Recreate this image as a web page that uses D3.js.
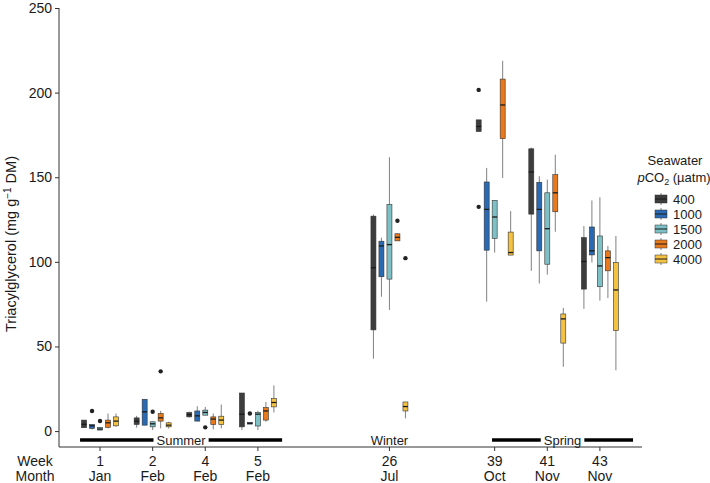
<!DOCTYPE html>
<html><head><meta charset="utf-8">
<script src="https://cdn.jsdelivr.net/npm/d3@7"></script>
<style>body{margin:0;background:#fff} svg text{font-family:"Liberation Sans",Arial,Helvetica,sans-serif;fill:#1a1a1a}</style>
</head><body><svg id="c" width="710" height="483"></svg>
<script>
// ---- data ----
const weeks  = ["1","2","4","5","26","39","41","43"];
const months = ["Jan","Feb","Feb","Feb","Jul","Oct","Nov","Nov"];
// slot index of each week on the x axis (seasons separated by gaps)
const weekSlot = [0, 1, 2, 3, 5.5, 7.5, 8.5, 9.5];
const levels = ["400","1000","1500","2000","4000"];
const colors = ["#3d3d3d","#2a6ab3","#7dc0c6","#e8791c","#f4c243"];
const yTicks = [0, 50, 100, 150, 200, 250];

// box stats per week: [min, q1, median, q3, max]
const box400 = [
  [1.8, 2.0, 4.0, 6.5, 6.5], [2.0, 3.9, 5.9, 7.8, 9.0], [8.0, 8.4, 9.7, 11.0, 11.5], [0.6, 2.5, 10, 22.5, 22.5],
  [42.8, 59.8, 96.5, 127, 128], [177, 177, 180, 183.9, 183.9], [94.7, 128.2, 153.1, 166.8, 167.5], [72.2, 83.9, 100.2, 114.3, 121.2]];
const box1000 = [
  [1.0, 1.6, 3.1, 3.9, 3.9], [3.5, 3.5, 11.4, 18.8, 18.8], [5.9, 5.9, 9.0, 11.9, 14.7], [4.3, 4.4, 4.6, 4.8, 4.8],
  [79.4, 91.2, 109.4, 112.2, 114.3], [76.5, 106.9, 131, 147.2, 155.5], [87.2, 106.5, 131, 147, 150.6], [99.6, 104.1, 106.5, 120.6, 136.3]];
const box1500 = [
  [0.6, 0.6, 1.2, 2.2, 2.2], [0.6, 2.5, 4.3, 5.5, 5.5], [9.4, 9.4, 11.0, 12.4, 14.3], [0.6, 3.0, 10.0, 11.0, 12.0],
  [71.6, 89.8, 110.2, 133.9, 161.8], [105.5, 113.9, 126.5, 136.3, 136.3], [92.4, 98.6, 119.6, 140.8, 148.6], [77.1, 85.3, 97.6, 115.3, 138.2]];
const box2000 = [
  [1.6, 2.2, 4.9, 6.5, 10.4], [1.6, 5.9, 7.8, 10.4, 12.0], [1.0, 3.9, 7.1, 8.4, 10.4], [5.5, 6.5, 11.9, 13.9, 17.2],
  [112.4, 112.4, 114.5, 116.6, 116.6], [149.6, 172.8, 192.7, 208, 218.8], [117.8, 129.6, 140.8, 151.5, 163.3], [78.6, 94.7, 102.5, 106.5, 109.4]];
const box4000 = [
  [2.5, 3.1, 5.9, 8.4, 10.4], [1.5, 2.5, 3.5, 4.9, 5.5], [1.6, 3.9, 6.5, 8.8, 15.7], [11.0, 14.3, 16.9, 19.2, 27.0],
  [7.5, 11.9, 14.5, 17.2, 17.2], [104, 104, 105.5, 117.6, 130], [38, 52, 66.3, 69.2, 72.8], [35.9, 59.4, 83.4, 99.6, 115.3]];
const outlierWeek  = ["1", "1", "2", "2", "4", "5", "26", "26", "39", "39"];
const outlierLevel = ["1000","1500","1500","2000","1500","1000","2000","4000","400","400"];
const outlierValue = [11.9, 6.0, 11.4, 35.3, 2.2, 10.4, 124.3, 102.2, 201.6, 132.5];
// season annotations (in x slot units)
const seasonNames = ["Summer","Winter","Spring"];
const seasonFrom  = [-0.38, 5.5, 7.45];
const seasonTo    = [3.46, 5.5, 10.13];

// ---- layout ----
const svg = d3.select("#c");
const boxes = [box400, box1000, box1500, box2000, box4000];
const x = d3.scaleLinear().domain([-0.78, 10.3]).range([59, 642]);
const y = d3.scaleLinear().domain([-9.4, 250]).range([447, 8]);
const dodge = d3.scaleBand().domain(levels).range([-20, 20]).paddingInner(0.375).paddingOuter(0.1875);
const color = d3.scaleOrdinal().domain(levels).range(colors);
const xw = w => x(weekSlot[weeks.indexOf(w)]);

// axes
const gy = svg.append("g").attr("transform", "translate(59,0)")
  .call(d3.axisLeft(y).tickValues(yTicks).tickSize(4).tickPadding(3).tickFormat(d3.format("d")));
gy.select(".domain").remove();
gy.append("line").attr("x1", 0).attr("x2", 0).attr("y1", y(250)).attr("y2", 447).attr("stroke", "#333");
gy.selectAll(".tick line").attr("stroke", "#333");
gy.selectAll(".tick text").attr("font-size", 14).attr("fill", "#1a1a1a").attr("font-family", "Liberation Sans, Arial, sans-serif");

svg.append("line").attr("x1", 59).attr("x2", 642).attr("y1", 447).attr("y2", 447).attr("stroke", "#333");
weeks.forEach((w, j) => {
  svg.append("line").attr("x1", xw(w)).attr("x2", xw(w)).attr("y1", 447).attr("y2", 451).attr("stroke", "#333");
  svg.append("text").attr("x", xw(w)).attr("y", 466).attr("text-anchor", "middle").attr("font-size", 14).text(w);
  svg.append("text").attr("x", xw(w)).attr("y", 481).attr("text-anchor", "middle").attr("font-size", 14).text(months[j]);
});
svg.append("text").attr("x", 35).attr("y", 466).attr("text-anchor", "middle").attr("font-size", 14).text("Week");
svg.append("text").attr("x", 35).attr("y", 481).attr("text-anchor", "middle").attr("font-size", 14).text("Month");

// y title
const yt = svg.append("text").attr("transform", "translate(16,244) rotate(-90)").attr("text-anchor", "middle").attr("font-size", 14.5);
yt.append("tspan").text("Triacylglycerol (mg g");
yt.append("tspan").attr("dy", -5).attr("font-size", 10).text("\u22121");
yt.append("tspan").attr("dy", 5).text(" DM)");

// seasons
seasonNames.forEach((s, k) => {
  const cx = (x(seasonFrom[k]) + x(seasonTo[k])) / 2;
  const t = svg.append("text").attr("x", cx).attr("y", 444.5).attr("text-anchor", "middle").attr("font-size", 13).text(s);
  if (seasonTo[k] > seasonFrom[k]) {
    const half = t.node().getComputedTextLength() / 2 + 3;
    svg.append("line").attr("x1", x(seasonFrom[k])).attr("x2", cx - half).attr("y1", 440).attr("y2", 440).attr("stroke", "#000").attr("stroke-width", 3.4);
    svg.append("line").attr("x1", cx + half).attr("x2", x(seasonTo[k])).attr("y1", 440).attr("y2", 440).attr("stroke", "#000").attr("stroke-width", 3.4);
  }
});

// boxes
const bw = dodge.bandwidth();
levels.forEach((lv, i) => {
  const g = svg.append("g");
  boxes[i].forEach((s, j) => {
    const cx = xw(weeks[j]) + dodge(lv) + bw / 2;
    g.append("line").attr("x1", cx).attr("x2", cx).attr("y1", y(s[0])).attr("y2", y(s[4])).attr("stroke", "#808080").attr("stroke-width", 1);
    const top = y(s[3]), bot = y(s[1]);
    const h = Math.max(bot - top, 1.6);
    g.append("rect").attr("x", cx - bw / 2).attr("y", (top + bot) / 2 - h / 2).attr("width", bw).attr("height", h)
      .attr("fill", color(lv)).attr("stroke", "#333").attr("stroke-width", 0.6);
    g.append("line").attr("x1", cx - bw / 2).attr("x2", cx + bw / 2).attr("y1", y(s[2])).attr("y2", y(s[2]))
      .attr("stroke", "#1a1a1a").attr("stroke-width", 1.3);
  });
});
outlierValue.forEach((v, k) => {
  const cx = xw(outlierWeek[k]) + dodge(outlierLevel[k]) + bw / 2;
  svg.append("circle").attr("cx", cx).attr("cy", y(v)).attr("r", 2.2).attr("fill", "#222");
});

// legend
const lg = svg.append("g");
lg.append("text").attr("x", 675).attr("y", 165).attr("text-anchor", "middle").attr("font-size", 13).text("Seawater");
const lt = lg.append("text").attr("x", 674).attr("y", 182).attr("text-anchor", "middle").attr("font-size", 13);
lt.append("tspan").attr("font-style", "italic").text("p");
lt.append("tspan").text("CO");
lt.append("tspan").attr("dy", 3).attr("font-size", 9).text("2");
lt.append("tspan").attr("dy", -3).text(" (\u00b5atm)");
levels.forEach((lv, i) => {
  const cy = 199 + i * 15;
  lg.append("line").attr("x1", 661).attr("x2", 661).attr("y1", cy - 6).attr("y2", cy + 6).attr("stroke", "#808080");
  lg.append("rect").attr("x", 655).attr("y", cy - 4).attr("width", 12).attr("height", 8).attr("fill", color(lv)).attr("stroke", "#333").attr("stroke-width", 0.5);
  lg.append("line").attr("x1", 655).attr("x2", 667).attr("y1", cy).attr("y2", cy).attr("stroke", "#1a1a1a").attr("stroke-width", 1);
  lg.append("text").attr("x", 673).attr("y", cy + 4.5).attr("font-size", 13).text(lv);
});
</script></body></html>
